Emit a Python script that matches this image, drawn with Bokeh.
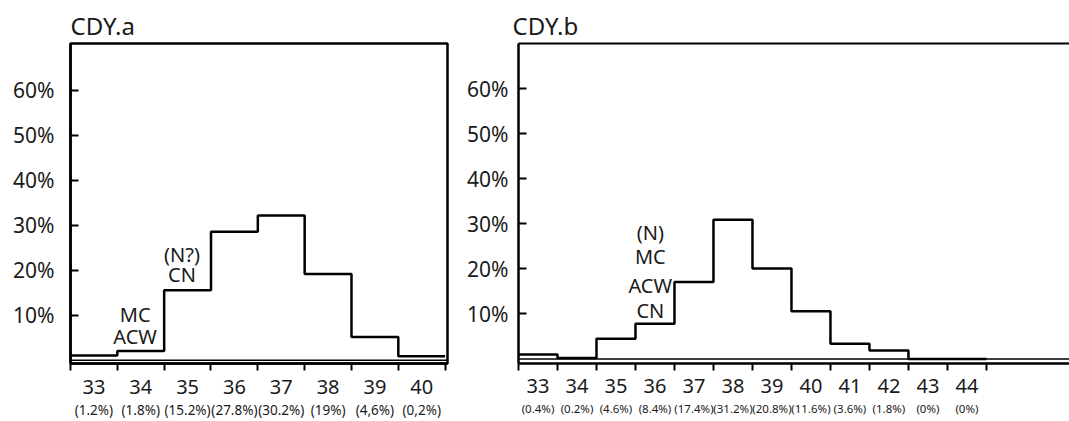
from bokeh.plotting import figure
from bokeh.layouts import row
from bokeh.models import FixedTicker, LinearAxis, Range1d, Span, Label
from bokeh.embed import file_html
from bokeh.resources import INLINE

FONT = "Noto Sans"

# ---- data ----
bins_a = [33, 34, 35, 36, 37, 38, 39, 40]
pct_labels_a = ["(1.2%)", "(1.8%)", "(15.2%)", "(27.8%)", "(30.2%)", "(19%)", "(4,6%)", "(0,2%)"]
heights_a = [1.1, 2.1, 15.6, 28.6, 32.2, 19.2, 5.2, 0.9]

bins_b = [33, 34, 35, 36, 37, 38, 39, 40, 41, 42, 43, 44]
pct_labels_b = ["(0.4%)", "(0.2%)", "(4.6%)", "(8.4%)", "(17.4%)", "(31.2%)", "(20.8%)",
                "(11.6%)", "(3.6%)", "(1.8%)", "(0%)", "(0%)"]
heights_b = [1.0, 0.2, 4.5, 7.8, 17.1, 30.9, 20.1, 10.6, 3.4, 1.9, 0.0, 0.0]

y_ticks = [10, 20, 30, 40, 50, 60]
y_tick_labels = ["10%", "20%", "30%", "40%", "50%", "60%"]

notes_a = [("MC", 33.88, 10.1), ("ACW", 33.88, 5.4), ("(N?)", 34.88, 23.6), ("CN", 34.88, 19.1)]
notes_b = [("(N)", 35.88, 28.1), ("MC", 35.88, 22.8), ("ACW", 35.88, 16.2), ("CN", 35.88, 10.7)]


def make_panel(title, bins, heights, pct_labels, notes, width, x_end, y_rng,
               border_left, border_right, border_top, border_bottom,
               num_size, pct_size, y_standoff, num_standoff, pct_standoff,
               title_offset, full_box):
    x0 = bins[0] - 0.5
    p = figure(width=width, height=421, x_range=Range1d(x0, x_end), y_range=Range1d(*y_rng),
               output_backend="svg", toolbar_location=None,
               x_axis_type=None, y_axis_type=None,
               min_border_left=border_left, min_border_right=border_right,
               min_border_top=border_top, min_border_bottom=border_bottom)
    p.background_fill_color = "white"
    p.border_fill_color = "white"
    if full_box:
        p.outline_line_color = "black"
        p.outline_line_width = 2.5
    else:
        p.outline_line_color = None
        top = LinearAxis(ticker=FixedTicker(ticks=[]), axis_line_width=2.2,
                         major_label_text_font_size="0px")
        p.add_layout(top, "above")

    p.title.text = title
    p.title.text_font = FONT
    p.title.text_font_size = "24px"
    p.title.text_font_style = "normal"
    p.title.text_color = "#1a1a1a"
    p.title.align = "left"
    p.title.offset = title_offset
    p.title.standoff = 4

    # y axis
    yax = LinearAxis(ticker=FixedTicker(ticks=y_ticks),
                     major_label_overrides={t: l for t, l in zip(y_ticks, y_tick_labels)},
                     axis_line_width=2.5, major_tick_in=8, major_tick_out=0,
                     major_tick_line_width=2, minor_tick_in=0, minor_tick_out=0,
                     major_label_standoff=y_standoff,
                     major_label_text_font=FONT, major_label_text_font_size="21px",
                     major_label_text_color="#1a1a1a")
    p.add_layout(yax, "left")

    # x axis with numbers (ticks at bin edges as minor ticks)
    edges = [b - 0.5 for b in bins] + [bins[-1] + 0.5]
    xax = LinearAxis(ticker=FixedTicker(ticks=bins, minor_ticks=edges),
                     axis_line_width=2.5, major_tick_in=0, major_tick_out=0,
                     minor_tick_in=0, minor_tick_out=7, minor_tick_line_width=2,
                     major_label_standoff=num_standoff,
                     major_label_text_font=FONT, major_label_text_font_size=num_size,
                     major_label_text_color="#1a1a1a")
    p.add_layout(xax, "below")

    # percentage labels
    pax = LinearAxis(ticker=FixedTicker(ticks=bins),
                     major_label_overrides={b: l for b, l in zip(bins, pct_labels)},
                     axis_line_color=None, major_tick_line_color=None,
                     minor_tick_line_color=None, major_tick_out=0, major_tick_in=0,
                     minor_tick_out=0, minor_tick_in=0,
                     major_label_standoff=pct_standoff,
                     major_label_text_font=FONT, major_label_text_font_size=pct_size,
                     major_label_text_color="#1a1a1a")
    p.add_layout(pax, "below")

    p.add_layout(Span(location=0, dimension="width", line_color="black", line_width=1.5))

    p.step(x=edges, y=heights + [heights[-1]], mode="after", line_width=2.5, line_color="black")

    for txt, x, y in notes:
        p.add_layout(Label(x=x, y=y, text=txt, text_align="center", text_baseline="middle",
                           text_font=FONT, text_font_size="20px", text_color="#1a1a1a"))
    return p


pa = make_panel("CDY.a", bins_a, heights_a, pct_labels_a, notes_a, 460, 40.55, (-0.7, 70.4),
                70, 13, 38, 51, "20px", "13.5px", 16, 9, 4, 0, True)
pb = make_panel("CDY.b", bins_b, heights_b, pct_labels_b, notes_b, 609, 46.63, (-1.0, 70.0),
                58, 0, 43, 56, "20px", "11.5px", 10, 8, 5, -6, False)

layout = row(pa, pb)
open("out.html", "w").write(file_html(layout, INLINE))
